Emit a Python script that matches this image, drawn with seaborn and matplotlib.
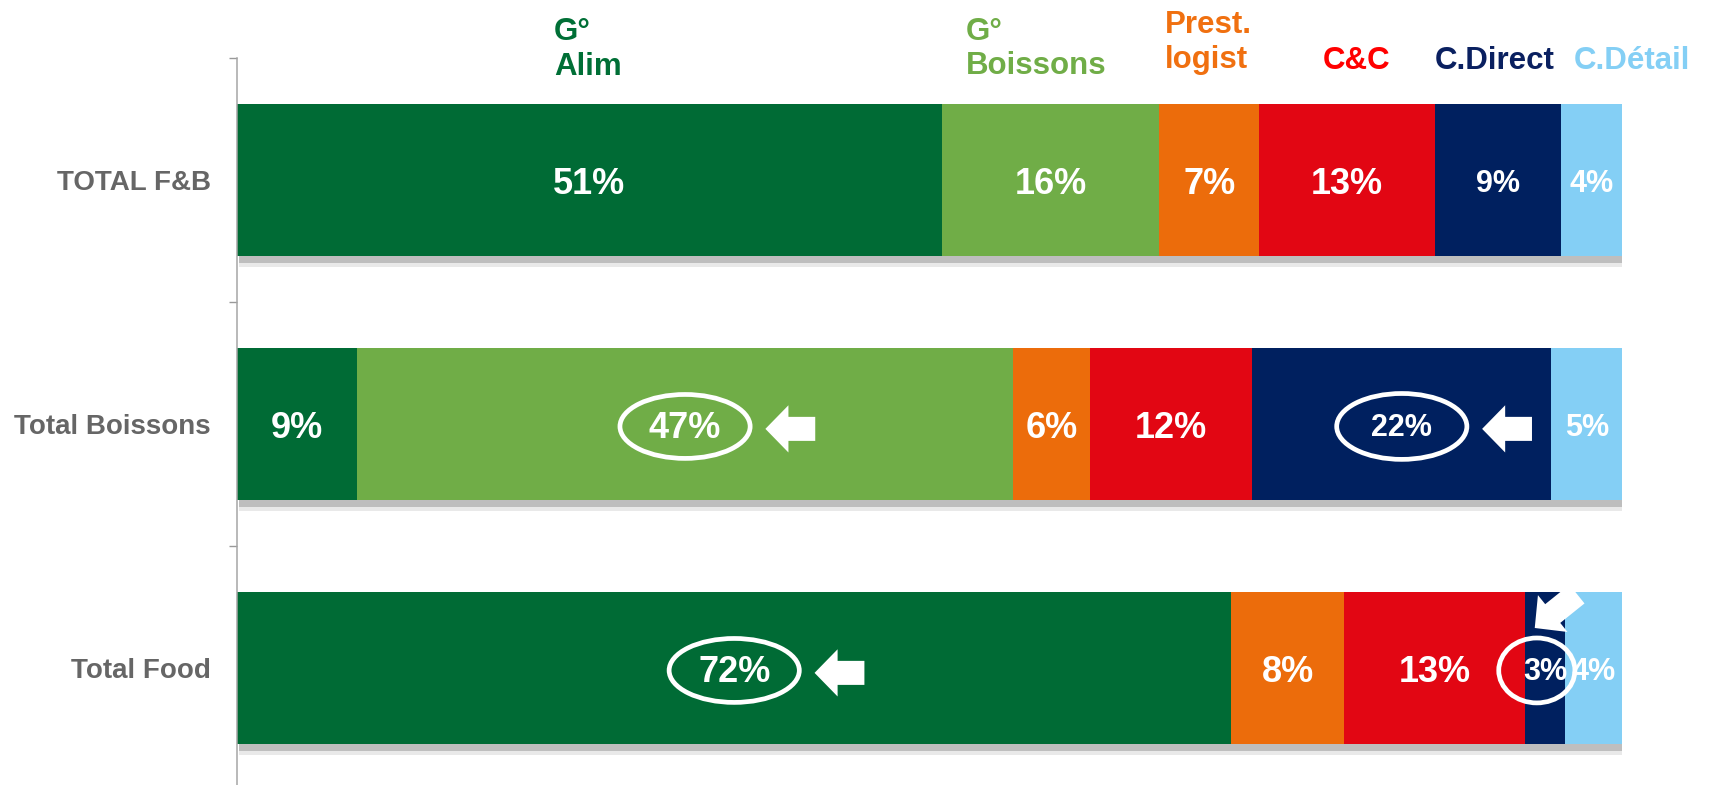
"""Channel mix per product family: stacked horizontal shares."""

import matplotlib.pyplot as plt
import matplotlib.patheffects as pe
from matplotlib.patches import Ellipse
import seaborn as sns
import pandas as pd

sns.set_theme(style="white")
plt.rcParams["font.family"] = ["Liberation Sans", "DejaVu Sans"]

# rows, top to bottom
rows = ["TOTAL F&B", "Total Boissons", "Total Food"]
channels = ["G°\nAlim", "G°\nBoissons", "Prest.\nlogist", "C&C", "C.Direct", "C.Détail"]

# share of each channel in each row (%)
g_alim = [50.9, 8.7, 71.8]
g_boissons = [15.7, 47.3, 0.0]
prest_logist = [7.2, 5.6, 8.1]
cash_carry = [12.7, 11.7, 13.1]
c_direct = [9.1, 21.6, 2.9]
c_detail = [4.4, 5.1, 4.1]

df = pd.DataFrame(
    [g_alim, g_boissons, prest_logist, cash_carry, c_direct, c_detail],
    index=channels, columns=rows,
).T

bar_colors = ["#006B35", "#70AD47", "#EC6C0B", "#E20613", "#00205F", "#84CFF5"]
head_colors = ["#006F36", "#70AD47", "#F07010", "#FF0000", "#0A2060", "#84CFF5"]
label_sizes = [26, 26, 26, 26, 22, 22]

# header placement (x in %, y in row units)
head_x = [22.9, 52.6, 67.0, 78.4, 86.5, 96.5]
head_y = [-0.430, -0.434, -0.459, -0.455, -0.455, -0.455]

# highlighted cells: (row, channel, circle width %, circle height, circle dx)
circled = [(1, 1, 9.4, 0.262, 0.0), (1, 4, 9.4, 0.27, 0.0),
           (2, 0, 9.4, 0.262, 0.0), (2, 4, 5.5, 0.266, -0.6)]

fig = plt.figure(figsize=(17.09, 7.85), dpi=100)
ax = fig.add_axes([237 / 1709, -5 / 785, 1385 / 1709, 732 / 785])

shadow = [
    pe.SimplePatchShadow(offset=(1.2, -4.5), shadow_rgbFace="#808080", alpha=0.55),
    pe.SimplePatchShadow(offset=(1.2, -7.5), shadow_rgbFace="#c8c8c8", alpha=0.4),
    pe.Normal(),
]

ypos = list(range(len(rows)))
left = pd.Series(0.0, index=rows)
centers = {}
for j, ch in enumerate(channels):
    vals = df[ch]
    ax.barh(ypos, vals, left=left, height=0.625, color=bar_colors[j],
            edgecolor="none", path_effects=shadow)
    for i, v in enumerate(vals):
        cx = left.iloc[i] + v / 2
        centers[(i, j)] = cx
        if v <= 0:
            continue
        ax.text(cx, i, f"{v:.0f}%", ha="center", va="center_baseline",
                color="white", fontsize=label_sizes[j], fontweight="bold")
    left = left + vals
    ax.text(head_x[j], head_y[j], ch, ha="left", va="baseline",
            color=head_colors[j], fontsize=22.5, fontweight="bold", clip_on=False)

arrow_style = "simple,head_length=1.66,head_width=3.4,tail_width=1.73"
for i, j, w, h, dx in circled:
    cx = centers[(i, j)] + dx
    ax.add_patch(Ellipse((cx, i + 0.01), w, h, fill=False, ec="white", lw=3.4))
    if w > 6:
        tip = (cx + 5.8, i + 0.02)
        tail = (cx + 9.4, i + 0.02)
    else:
        tip = (cx - 0.15, i - 0.164)
        tail = (cx + 2.9, i - 0.303)
    ax.annotate("", xy=tip, xytext=tail,
                arrowprops=dict(arrowstyle=arrow_style, fc="white", ec="none",
                                shrinkA=0, shrinkB=0, mutation_scale=10))

ax.set_xlim(0, 100)
ax.set_ylim(2.5, -0.5)
ax.set_xticks([])
ax.set_yticks(ypos)
ax.set_yticklabels(rows)
ax.set_yticks([-0.5, 0.5, 1.5, 2.5], minor=True)
ax.tick_params(axis="y", which="major", length=0, pad=18.7,
               labelsize=20, labelcolor="#666666")
ax.tick_params(axis="y", which="minor", left=True, length=5.8, width=1,
               color="#999999")
for lab in ax.get_yticklabels():
    lab.set_fontweight("bold")

for side in ["top", "right", "bottom"]:
    ax.spines[side].set_visible(False)
ax.spines["left"].set_color("#a6a6a6")
ax.spines["left"].set_linewidth(1.1)

fig.savefig("out.png", dpi=100)
